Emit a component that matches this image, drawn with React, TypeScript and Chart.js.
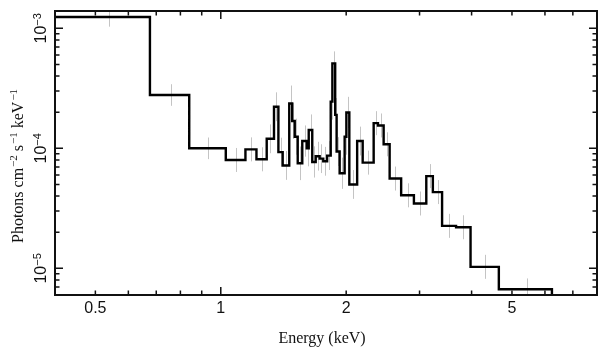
import React, { useEffect, useRef } from "react";
import { Chart, registerables } from "chart.js";

Chart.register(...registerables);

// Bin edges (keV) of the folded spectrum
const binEdges = [
  0.4, 0.676, 0.84, 1.028, 1.146, 1.218, 1.289, 1.342, 1.375, 1.408, 1.46,
  1.484, 1.505, 1.53, 1.569, 1.608, 1.626, 1.658, 1.69, 1.727, 1.762, 1.8,
  1.836, 1.853, 1.882, 1.897, 1.929, 1.983, 2.002, 2.035, 2.125, 2.191, 2.328,
  2.384, 2.46, 2.543, 2.71, 2.908, 3.114, 3.229, 3.398, 3.671, 3.977, 4.65,
  6.236,
];

// Photons cm^-2 s^-1 keV^-1 per bin
const fluxValues = [
  1.24e-3, 2.78e-4, 1.0e-4, 8.0e-5, 9.8e-5, 8.1e-5, 1.2e-4, 2.22e-4, 9.3e-5,
  7.2e-5, 2.36e-4, 1.69e-4, 1.25e-4, 7.5e-5, 1.15e-4, 1.0e-4, 1.42e-4, 7.7e-5,
  8.6e-5, 8.2e-5, 7.8e-5, 8.7e-5, 2.45e-4, 5.1e-4, 1.9e-4, 9.4e-5, 6.2e-5,
  1.25e-4, 1.99e-4, 5.0e-5, 1.15e-4, 7.6e-5, 1.62e-4, 1.55e-4, 1.08e-4, 5.6e-5,
  4.06e-5, 3.47e-5, 5.87e-5, 4.32e-5, 2.26e-5, 2.2e-5, 1.03e-5, 6.7e-6,
];

// Error half-widths in dex per bin
const errDex = [
  0.08, 0.09, 0.09, 0.1, 0.1, 0.1, 0.12, 0.12, 0.12, 0.12, 0.15, 0.15, 0.15,
  0.14, 0.13, 0.15, 0.13, 0.13, 0.12, 0.12, 0.12, 0.12, 0.15, 0.1, 0.14, 0.12,
  0.13, 0.15, 0.13, 0.12, 0.12, 0.1, 0.1, 0.1, 0.1, 0.1, 0.1, 0.1, 0.1, 0.1,
  0.1, 0.1, 0.1, 0.09,
];

const xMin = 0.4;
const xMax = 8;
const yMin = 6.0e-6;
const yMax = 1.393e-3;

const xTickLabels = [0.5, 1, 2, 5];
const xMinorTicks = [0.5, 0.6, 0.7, 0.8, 0.9, 2, 3, 4, 5, 6, 7];
const xMajorTicks = [1];
const yMajorExp = [-3, -4, -5];

const xTitle = "Energy (keV)";

function buildStep() {
  const pts: { x: number; y: number }[] = [];
  for (let i = 0; i < fluxValues.length; i++) {
    pts.push({ x: binEdges[i], y: fluxValues[i] });
    pts.push({ x: binEdges[i + 1], y: fluxValues[i] });
  }
  pts.push({ x: binEdges[binEdges.length - 1], y: yMin });
  return pts;
}

const SANS = "'Liberation Sans', Arial, Helvetica, sans-serif";
const SERIF = "'Liberation Serif', 'Times New Roman', serif";

const xspecPlugin = {
  id: "xspecAxes",
  beforeDatasetsDraw(chart: any) {
    const { ctx, chartArea: a, scales } = chart;
    const xs = scales.x;
    const ys = scales.y;
    ctx.save();
    ctx.beginPath();
    ctx.rect(a.left, a.top, a.right - a.left, a.bottom - a.top);
    ctx.clip();
    ctx.strokeStyle = "#c4c4c4";
    ctx.lineWidth = 1;
    for (let i = 0; i < fluxValues.length; i++) {
      const xc = (binEdges[i] + binEdges[i + 1]) / 2;
      const px = Math.round(xs.getPixelForValue(xc)) + 0.5;
      const lo = fluxValues[i] / Math.pow(10, errDex[i]);
      const hi = fluxValues[i] * Math.pow(10, errDex[i]);
      ctx.beginPath();
      ctx.moveTo(px, ys.getPixelForValue(lo));
      ctx.lineTo(px, ys.getPixelForValue(hi));
      ctx.stroke();
    }
    ctx.restore();
  },
  afterDraw(chart: any) {
    const { ctx, chartArea: a, scales } = chart;
    const xs = scales.x;
    const ys = scales.y;
    ctx.save();
    ctx.strokeStyle = "#111";
    ctx.fillStyle = "#111";

    // frame
    ctx.lineWidth = 2;
    ctx.strokeRect(a.left, a.top, a.right - a.left, a.bottom - a.top);

    // x ticks (bottom and top, inward)
    ctx.lineWidth = 1.5;
    const xTick = (v: number, len: number) => {
      const px = xs.getPixelForValue(v);
      ctx.beginPath();
      ctx.moveTo(px, a.bottom);
      ctx.lineTo(px, a.bottom - len);
      ctx.moveTo(px, a.top);
      ctx.lineTo(px, a.top + len);
      ctx.stroke();
    };
    xMinorTicks.forEach((v) => xTick(v, 4.5));
    xMajorTicks.forEach((v) => xTick(v, 8));

    // y ticks (left and right, inward)
    const yTick = (v: number, len: number) => {
      const py = ys.getPixelForValue(v);
      if (py < a.top - 0.5 || py > a.bottom + 0.5) return;
      ctx.beginPath();
      ctx.moveTo(a.left, py);
      ctx.lineTo(a.left + len, py);
      ctx.moveTo(a.right, py);
      ctx.lineTo(a.right - len, py);
      ctx.stroke();
    };
    for (let e = -6; e <= -3; e++) {
      for (let m = 1; m <= 9; m++) {
        const v = m * Math.pow(10, e);
        if (v < yMin * 0.999 || v > yMax) continue;
        yTick(v, m === 1 ? 8 : 4.5);
      }
    }

    // x tick labels
    ctx.font = `16px ${SANS}`;
    ctx.textAlign = "center";
    ctx.textBaseline = "alphabetic";
    xTickLabels.forEach((v) => {
      ctx.fillText(String(v), xs.getPixelForValue(v), a.bottom + 18);
    });

    // y tick labels: 10^n rotated
    yMajorExp.forEach((e) => {
      const py = ys.getPixelForValue(Math.pow(10, e));
      const base = "10";
      const sup = "\u2212" + String(-e);
      ctx.save();
      ctx.translate(45.5, py);
      ctx.rotate(-Math.PI / 2);
      ctx.textAlign = "left";
      ctx.font = `16px ${SANS}`;
      const wb = ctx.measureText(base).width;
      ctx.font = `11px ${SANS}`;
      const ws = ctx.measureText(sup).width;
      const start = -(wb + ws) / 2;
      ctx.font = `16px ${SANS}`;
      ctx.fillText(base, start, 0);
      ctx.font = `11px ${SANS}`;
      ctx.fillText(sup, start + wb, -5);
      ctx.restore();
    });

    // x title
    ctx.font = `16px ${SERIF}`;
    ctx.textAlign = "center";
    ctx.fillText(xTitle, (a.left + a.right) / 2 - 4, 343);

    // y title with superscripts
    const parts: [string, boolean][] = [
      ["Photons cm", false],
      ["\u22122", true],
      [" s", false],
      ["\u22121", true],
      [" keV", false],
      ["\u22121", true],
    ];
    ctx.save();
    ctx.translate(23, 0);
    ctx.rotate(-Math.PI / 2);
    ctx.textAlign = "left";
    let total = 0;
    parts.forEach(([t, s]) => {
      ctx.font = s ? `11px ${SERIF}` : `16px ${SERIF}`;
      total += ctx.measureText(t).width + (s ? 1 : 0);
    });
    let cx = -243;
    parts.forEach(([t, s]) => {
      ctx.font = s ? `11px ${SERIF}` : `16px ${SERIF}`;
      ctx.fillText(t, cx + (s ? 1 : 0), s ? -6 : 0);
      cx += ctx.measureText(t).width + (s ? 1 : 0);
    });
    ctx.restore();

    ctx.restore();
  },
};

export default function App() {
  const ref = useRef<HTMLCanvasElement | null>(null);

  useEffect(() => {
    if (!ref.current) return;
    const chart = new Chart(ref.current, {
      type: "line",
      data: {
        datasets: [
          {
            data: buildStep(),
            borderColor: "#000",
            borderWidth: 2.4,
            pointRadius: 0,
            tension: 0,
            fill: false,
            borderJoinStyle: "miter",
          } as any,
        ],
      },
      options: {
        animation: false,
        responsive: false,
        devicePixelRatio: 1,
        parsing: false,
        layout: { padding: { left: 55, right: 11, top: 11, bottom: 62 } },
        plugins: {
          legend: { display: false },
          tooltip: { enabled: false },
        },
        scales: {
          x: { type: "logarithmic", min: xMin, max: xMax, display: false },
          y: { type: "logarithmic", min: yMin, max: yMax, display: false },
        },
      } as any,
      plugins: [xspecPlugin],
    });
    return () => chart.destroy();
  }, []);

  return (
    <div style={{ position: "fixed", left: 0, top: 0, width: 608, height: 357, background: "#fff" }}>
      <canvas ref={ref} width={608} height={357} style={{ display: "block", width: 608, height: 357 }} />
    </div>
  );
}
